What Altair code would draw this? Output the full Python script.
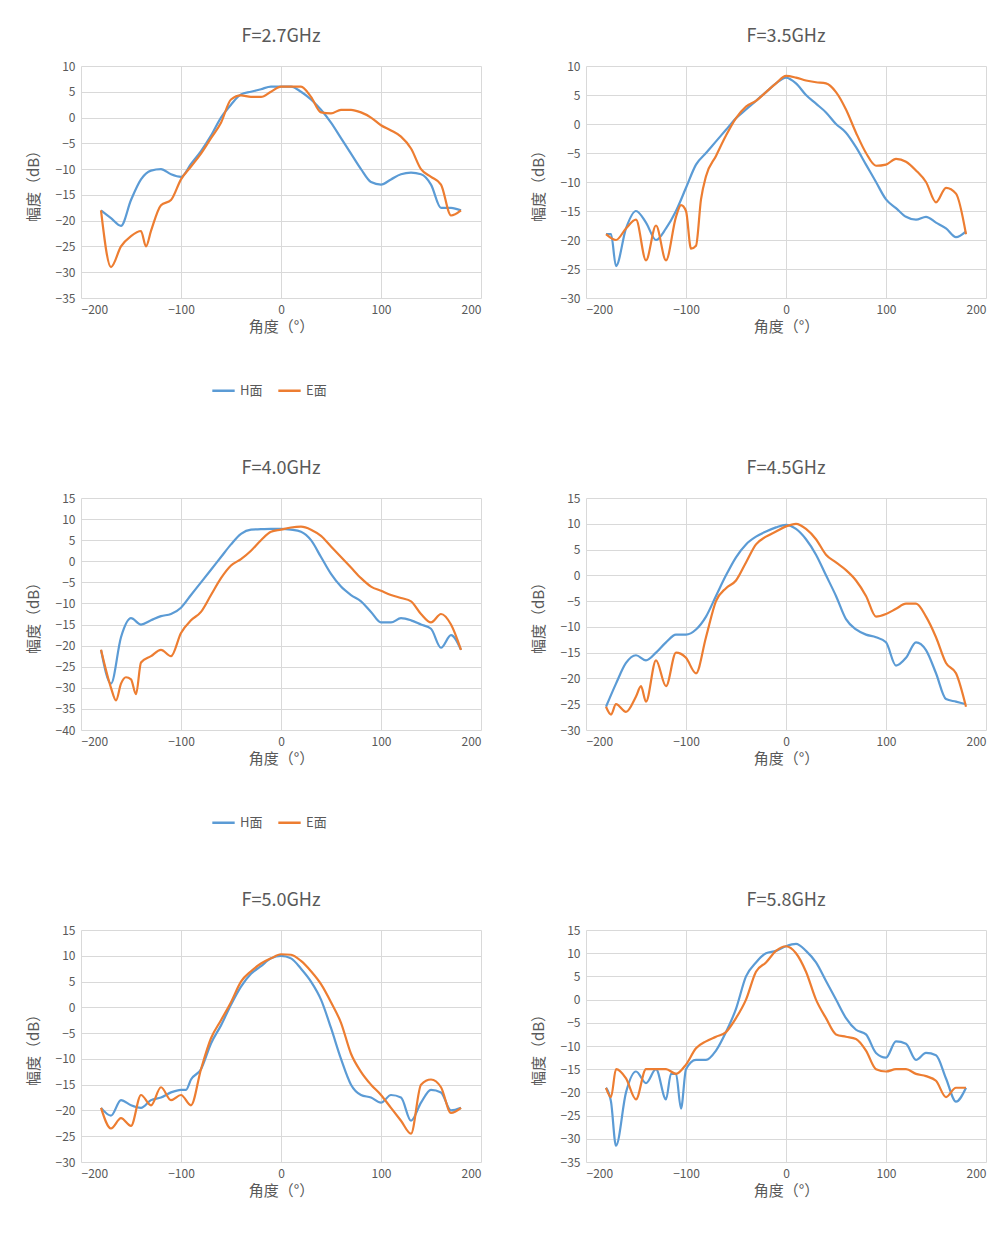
import altair as alt
import pandas as pd

# ---- data (angle, dB) ----
H27_X = [-180,-170,-160,-150,-140,-130,-120,-110,-100,-90,-80,-70,-60,-50,-40,-30,-20,-10,0,10,20,30,40,50,60,70,80,90,100,110,120,130,140,150,160,170,180]
H27_Y = [-18,-19.5,-21,-16,-12,-10.3,-10,-11,-11.5,-9,-6.5,-3.5,0,2.5,4.5,5,5.5,6,6,6,5,3.5,1.5,-1,-4,-7,-10,-12.5,-13,-12,-11,-10.7,-11,-13,-17.5,-17.5,-18]
E27_X = [-180,-170,-160,-150,-140,-135,-130,-120,-110,-100,-90,-80,-70,-60,-50,-40,-30,-20,-10,0,10,20,30,40,50,60,70,80,90,100,110,120,130,140,150,160,170,180]
E27_Y = [-18,-29,-25,-23,-22,-25,-22,-17,-16,-12,-9.5,-7,-4,-1,3.5,4.3,4,4,5,6,6,6,4,1,0.8,1.5,1.5,1,0,-1.5,-2.5,-3.7,-6,-10,-11.5,-13,-19,-18]

H35_X = [-180,-175,-170,-160,-150,-140,-130,-120,-110,-100,-90,-80,-70,-60,-50,-40,-30,-20,-10,0,10,20,30,40,50,60,70,80,90,100,110,120,130,140,150,160,170,180]
H35_Y = [-19,-19,-24.5,-18,-15,-17,-20,-18,-15,-11,-7,-5,-3,-1,1,2.5,4,5.5,7,8,7,5,3.5,2,0,-1.5,-4,-7,-10,-13,-14.5,-16,-16.5,-16,-17,-18,-19.5,-18.5]
E35_X = [-180,-170,-160,-150,-140,-130,-120,-110,-105,-100,-95,-90,-85,-80,-70,-60,-50,-40,-30,-20,-10,0,10,20,30,40,50,60,70,80,90,100,110,120,130,140,150,160,170,180]
E35_Y = [-19,-20,-18,-16.5,-23.5,-17.5,-23.5,-16,-14,-15,-21.5,-21,-13,-9,-5.5,-2,1,3,4,5.5,7,8.3,8,7.5,7.2,7,5.5,2.5,-1.5,-5,-7.2,-7,-6,-6.5,-8,-10,-13.5,-11,-12,-19]

H40_X = [-180,-170,-160,-150,-140,-130,-120,-110,-100,-90,-80,-70,-60,-50,-40,-30,-20,-10,0,10,20,30,40,50,60,70,80,90,100,110,120,130,140,150,160,170,180]
H40_Y = [-21,-29,-18,-13.5,-15,-14,-13,-12.5,-11,-8,-5,-2,1,4,6.5,7.5,7.6,7.7,7.7,7.5,7,5,1,-3,-6,-8,-9.5,-12,-14.5,-14.5,-13.5,-14,-15,-16,-20.5,-17.5,-21]
E40_X = [-180,-170,-165,-160,-155,-150,-145,-140,-130,-120,-110,-100,-90,-80,-70,-60,-50,-40,-30,-20,-10,0,10,20,30,40,50,60,70,80,90,100,110,120,130,140,150,160,170,180]
E40_Y = [-21,-30,-33,-29,-27.5,-28,-31.5,-24,-22.5,-21,-22.5,-17,-14,-12,-8,-4,-1,0.5,2.5,5,7,7.5,8,8.2,7.5,6,3.5,1,-1.5,-4,-6,-7,-8,-8.7,-9.5,-12.5,-14.5,-12.5,-15,-21]

H45_X = [-180,-170,-160,-150,-140,-130,-120,-110,-100,-90,-80,-70,-60,-50,-40,-30,-20,-10,0,10,20,30,40,50,60,70,80,90,100,110,120,130,140,150,160,170,180]
H45_Y = [-25.5,-21,-17,-15.5,-16.5,-15,-13,-11.5,-11.5,-10.5,-8,-4,0,3.5,6,7.5,8.5,9.3,9.8,9,7,4,0,-4,-8.5,-10.5,-11.5,-12,-13,-17.5,-16,-13,-14.5,-19,-24,-24.5,-25]
E45_X = [-180,-175,-170,-160,-150,-145,-140,-130,-120,-110,-100,-90,-80,-70,-60,-50,-40,-30,-20,-10,0,10,20,30,40,50,60,70,80,90,100,110,120,130,140,150,160,170,180]
E45_Y = [-25.5,-27,-25,-26.5,-23.5,-21.5,-24.5,-16.5,-21.5,-15,-16,-19,-12,-5,-2.5,-1,2.5,6,7.5,8.5,9.5,10,9,7,4,2.5,1,-1,-4,-8,-7.5,-6.5,-5.5,-5.5,-8,-12,-17,-19,-25.5]

H50_X = [-180,-170,-160,-150,-140,-130,-120,-110,-100,-95,-90,-80,-70,-60,-50,-40,-30,-20,-10,0,10,20,30,40,50,60,70,80,90,100,110,120,130,140,150,160,170,180]
H50_Y = [-19.5,-21,-18,-19,-19.5,-18,-17.5,-16.5,-16,-16,-14,-12,-7,-3.5,0.5,4,6.5,8,9.5,10,9.5,7.5,5,1.5,-4,-10,-15,-17,-17.5,-18.5,-17,-17.5,-22,-18.5,-16,-16.5,-20,-19.5]
E50_X = [-180,-170,-160,-150,-140,-130,-120,-110,-100,-90,-80,-70,-60,-50,-40,-30,-20,-10,0,10,20,30,40,50,60,70,80,90,100,110,120,130,140,150,160,170,180]
E50_Y = [-19.5,-23.5,-21.5,-23,-17,-19,-15.5,-18,-17,-19,-12,-6,-2.5,1,5,7,8.5,9.5,10.3,10.2,9,7,4.5,1,-3,-9,-12.5,-15,-17,-19.5,-22,-24.5,-15,-14,-15.5,-20.5,-19.5]

H58_X = [-180,-175,-170,-160,-150,-140,-130,-120,-115,-110,-105,-100,-90,-80,-70,-60,-50,-40,-30,-20,-10,0,10,20,30,40,50,60,70,80,90,100,110,120,130,140,150,160,170,180]
H58_Y = [-19,-22,-31.5,-20,-15.5,-18,-15,-21.5,-16,-16,-23.5,-15,-13,-13,-11,-7,-2,5,8,10,10.5,11.5,12,10.5,8,4,0,-4,-6.5,-7.5,-11.5,-12.5,-9,-9.5,-13,-11.5,-12,-17,-22,-19]
E58_X = [-180,-175,-170,-160,-150,-140,-130,-120,-110,-100,-90,-80,-70,-60,-50,-40,-30,-20,-10,0,10,20,30,40,50,60,70,80,90,100,110,120,130,140,150,160,170,180]
E58_Y = [-19,-21,-15,-17,-21.5,-15,-15,-15,-16,-14,-10.5,-9,-8,-7,-4,0,6,8,10.5,11.5,10,6,0,-4,-7.5,-8,-8.5,-11,-15,-15.5,-15,-15,-16,-16.5,-17.5,-21,-19,-19]

PANELS = [
    ("F=2.7GHz", H27_X, H27_Y, E27_X, E27_Y, -35, 10),
    ("F=3.5GHz", H35_X, H35_Y, E35_X, E35_Y, -30, 10),
    ("F=4.0GHz", H40_X, H40_Y, E40_X, E40_Y, -40, 15),
    ("F=4.5GHz", H45_X, H45_Y, E45_X, E45_Y, -30, 15),
    ("F=5.0GHz", H50_X, H50_Y, E50_X, E50_Y, -30, 15),
    ("F=5.8GHz", H58_X, H58_Y, E58_X, E58_Y, -35, 15),
]

COLOR = alt.Scale(domain=["H面", "E面"], range=["#5B9BD5", "#ED7D31"])


def panel(title, hx, hy, ex, ey, ymin, ymax):
    df = pd.concat([
        pd.DataFrame({"angle": hx, "db": hy, "s": "H面"}),
        pd.DataFrame({"angle": ex, "db": ey, "s": "E面"}),
    ])
    return (
        alt.Chart(df)
        .mark_line(interpolate="monotone", strokeWidth=2.2)
        .encode(
            x=alt.X("angle:Q", title="角度（°）",
                    scale=alt.Scale(domain=[-200, 200], nice=False),
                    axis=alt.Axis(values=[-200, -100, 0, 100, 200])),
            y=alt.Y("db:Q", title="幅度（dB）",
                    scale=alt.Scale(domain=[ymin, ymax], nice=False),
                    axis=alt.Axis(values=list(range(ymin, ymax + 1, 5)))),
            color=alt.Color("s:N", scale=COLOR, sort=["H面", "E面"],
                            legend=alt.Legend(title=None, orient="none", direction="horizontal",
                                              legendX=130, legendY=312,
                                              symbolType="stroke", symbolStrokeWidth=2.5,
                                              symbolSize=500)),
        )
        .properties(title=title, width=400, height=232)
    )


charts = [panel(*p) for p in PANELS]
rows = [alt.hconcat(charts[i], charts[i + 1], spacing=50) for i in range(0, 6, 2)]
chart = (
    alt.vconcat(*rows, spacing=62)
    .resolve_scale(color="independent")
    .properties(padding={"left": 18, "top": 20, "right": 5, "bottom": 5})
    .configure(font="Noto Sans CJK SC")
    .configure_view(stroke=None)
    .configure_title(fontSize=18, fontWeight="normal", color="#595959", offset=14)
    .configure_axis(labelColor="#595959", titleColor="#595959", labelFontSize=12,
                    titleFontSize=15, titleFontWeight="normal", gridColor="#d9d9d9",
                    domain=False, ticks=False, labelPadding=6)
    .configure_axisY(titlePadding=14)
    .configure_legend(labelFontSize=13, labelColor="#595959")
)

chart.save("out.html", embed_options={"renderer": "svg", "actions": False})
